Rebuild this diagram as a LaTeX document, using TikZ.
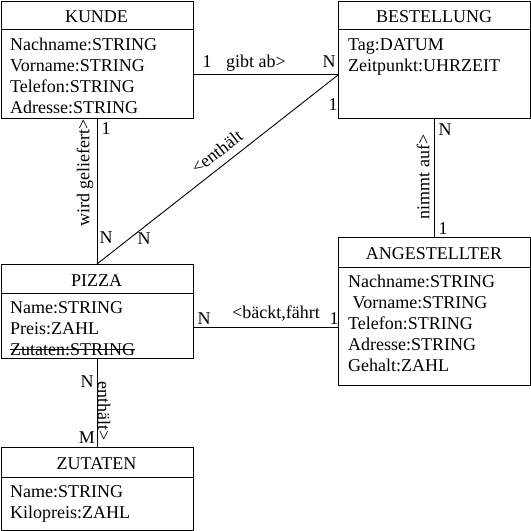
\documentclass[tikz,border=0pt]{standalone}
\usepackage{fontspec}
\setmainfont{Liberation Serif}
\newfontfamily\erfont{Liberation Serif}
\begin{document}
\begin{tikzpicture}[x=1pt,y=1pt,
  font=\erfont\fontsize{18}{21}\selectfont,
  box/.style={draw,line width=1pt,rectangle,anchor=north west,inner sep=0pt},
  attr/.style={anchor=base west,inner sep=0pt},
  ttl/.style={anchor=base,inner sep=0pt},
  card/.style={anchor=base,inner sep=0pt},
  conn/.style={line width=0.9pt}]
\useasboundingbox (0,0) rectangle (531,-531);
% boxes
\node[box,minimum width=192pt,minimum height=117pt] (kunde) at (0.5,-0.5) {};
\node[box,minimum width=192pt,minimum height=117pt] (best) at (338,-0.5) {};
\node[box,minimum width=192pt,minimum height=94pt] (pizza) at (0.5,-264) {};
\node[box,minimum width=192pt,minimum height=148pt] (ang) at (338,-237) {};
\node[box,minimum width=192pt,minimum height=83pt] (zut) at (0.5,-447) {};
% header lines
\draw[line width=1pt] ([yshift=-29pt]kunde.north west) -- ([yshift=-29pt]kunde.north east);
\draw[line width=1pt] ([yshift=-29pt]best.north west) -- ([yshift=-29pt]best.north east);
\draw[line width=1pt] ([yshift=-29pt]pizza.north west) -- ([yshift=-29pt]pizza.north east);
\draw[line width=1pt] ([yshift=-30pt]ang.north west) -- ([yshift=-30pt]ang.north east);
\draw[line width=1pt] ([yshift=-30pt]zut.north west) -- ([yshift=-30pt]zut.north east);
% titles
\node[ttl] (tk) at (96.5,-22) {KUNDE};
\node[ttl] (tb) at (434,-22) {BESTELLUNG};
\node[ttl] (tp) at (96.5,-286) {PIZZA};
\node[ttl] (ta) at (434,-259) {ANGESTELLTER};
\node[ttl] (tz) at (96.5,-469) {ZUTATEN};
% attributes
\node[attr] (k1) at (10,-50) {Nachname:STRING};
\node[attr] (k2) at (10,-71) {Vorname:STRING};
\node[attr] (k3) at (10,-92) {Telefon:STRING};
\node[attr] (k4) at (10,-113) {Adresse:STRING};
\node[attr] (b1) at (348,-50) {Tag:DATUM};
\node[attr] (b2) at (348,-71) {Zeitpunkt:UHRZEIT};
\node[attr] (p1) at (10,-313) {Name:STRING};
\node[attr] (p2) at (10,-334) {Preis:ZAHL};
\node[attr] (p3) at (10,-355) {Zutaten:STRING};
\draw[line width=0.8pt] ([yshift=5.5pt]p3.base west) -- ([yshift=5.5pt]p3.base east);
\node[attr] (a1) at (348,-287) {Nachname:STRING};
\node[attr] (a2) at (348,-308) {\ Vorname:STRING};
\node[attr] (a3) at (348,-329) {Telefon:STRING};
\node[attr] (a4) at (348,-350) {Adresse:STRING};
\node[attr] (a5) at (348,-371) {Gehalt:ZAHL};
\node[attr] (z1) at (10,-497) {Name:STRING};
\node[attr] (z2) at (10,-518) {Kilopreis:ZAHL};
% connector endpoints
\coordinate (kb1) at (193,-74);
\coordinate (kb2) at (338,-74);
\coordinate (kp1) at (97,-118);
\coordinate (kp2) at (97,-264);
\coordinate (bp1) at (338,-75);
\coordinate (ba1) at (434,-118);
\coordinate (ba2) at (434,-237);
\coordinate (pa1) at (193,-327);
\coordinate (pa2) at (338,-327);
\coordinate (pz1) at (97,-358);
\coordinate (pz2) at (97,-447);
\draw[conn] (kb1) -- (kb2);
\draw[conn] (kp1) -- (kp2);
\draw[conn] (kp2) -- (bp1);
\draw[conn] (ba1) -- (ba2);
\draw[conn] (pa1) -- (pa2);
\draw[conn] (pz1) -- (pz2);
% labels KUNDE-BESTELLUNG
\node[card] (c1) at (207,-67) {1};
\node[card] (l1) at (256,-67) {gibt ab>};
\node[card] (c2) at (329,-67) {N};
% KUNDE-PIZZA
\node[card] (c3) at (106,-134) {1};
\node[card] (c4) at (106,-243) {N};
\node[inner sep=0pt,rotate=90] (l2) at (85,-173) {wird geliefert>};
% diagonal
\node[card] (c5) at (333,-110) {1};
\node[card] (c6) at (144,-244) {N};
\node[inner sep=0pt,rotate=37.8] (l3) at (217,-152) {<enthält};
% BESTELLUNG-ANGESTELLTER
\node[card] (c7) at (445,-135) {N};
\node[card] (c8) at (443,-234) {1};
\node[inner sep=0pt,rotate=90] (l4) at (423,-177) {nimmt auf>};
% PIZZA-ANGESTELLTER
\node[card] (c9) at (204,-324) {N};
\node[card] (l5) at (276,-318) {<bäckt,fährt};
\node[card] (c10) at (334,-324) {1};
% PIZZA-ZUTATEN
\node[card] (c11) at (87,-387) {N};
\node[card] (c12) at (87,-443) {M};
\node[inner sep=0pt,rotate=-90] (l6) at (104,-411) {enthält>};
\end{tikzpicture}
\end{document}
